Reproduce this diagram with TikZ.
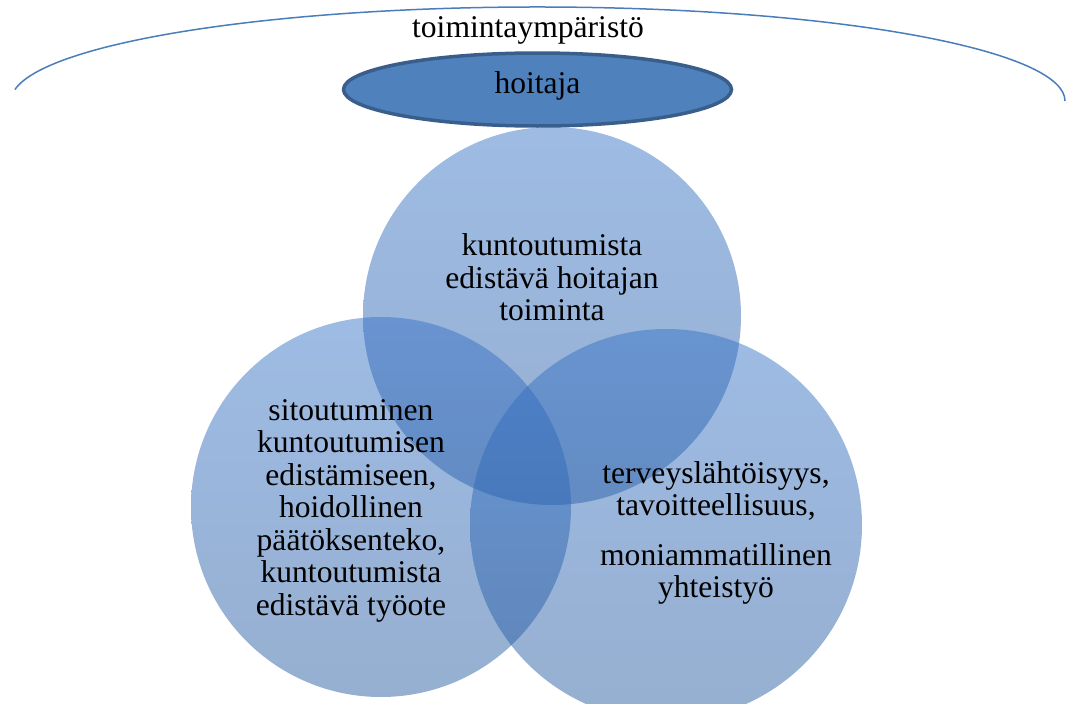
\documentclass[tikz,border=0pt]{standalone}
\usepackage{fontspec}
\setmainfont{Liberation Serif}
\usetikzlibrary{shapes.geometric}
\definecolor{arcblue}{RGB}{74,126,187}
\definecolor{ellfill}{RGB}{79,129,189}
\definecolor{elldraw}{RGB}{58,94,140}
\definecolor{circtop}{RGB}{52,113,198}
\definecolor{circbot}{RGB}{35,88,158}
\tikzset{
  venn/.style={circle, inner sep=0pt, draw=none, shade, top color=circtop, bottom color=circbot, fill opacity=0.48},
  lbl/.style={anchor=base, inner sep=0pt, font=\fontsize{31.6}{32.5}\selectfont, text=black},
}
\begin{document}
\begin{tikzpicture}[x=1pt,y=-1pt]
\useasboundingbox (0,0) rectangle (1066,704);
\clip (0,0) rectangle (1066,704);
% environment arc
\draw[arcblue, line width=1.5pt] (538,101) ++(187:527 and 94) arc[start angle=187, end angle=360, x radius=527, y radius=94];
\node[lbl] (env) at (528,37) {toimintaympäristö};
% nurse ellipse
\node[ellipse, minimum width=388pt, minimum height=73pt, inner sep=0pt, fill=ellfill, draw=elldraw, line width=3.5pt] (hoitaja) at (537.5,89.5) {};
\node[lbl] (hoitajat) at (537.5,93) {hoitaja};
% circles
\node[venn, minimum size=378pt] (ctop) at (552,316) {};
\node[venn, minimum size=380pt] (cleft) at (381,507) {};
\node[venn, minimum size=392pt] (cright) at (666,525) {};
% top text
\node[lbl] (t1) at (552,255) {kuntoutumista};
\node[lbl] (t2) at (552,288) {edistävä hoitajan};
\node[lbl] (t3) at (552,320) {toiminta};
% left text
\node[lbl] (l1) at (351,420) {sitoutuminen};
\node[lbl] (l2) at (351,452.5) {kuntoutumisen};
\node[lbl] (l3) at (351,485) {edistämiseen,};
\node[lbl] (l4) at (351,517.5) {hoidollinen};
\node[lbl] (l5) at (351,550) {päätöksenteko,};
\node[lbl] (l6) at (351,582.5) {kuntoutumista};
\node[lbl] (l7) at (351,615) {edistävä työote};
% right text
\node[lbl] (r1) at (716,483) {terveyslähtöisyys,};
\node[lbl] (r2) at (716,515) {tavoitteellisuus,};
\node[lbl] (r3) at (716,565) {moniammatillinen};
\node[lbl] (r4) at (716,597) {yhteistyö};
\end{tikzpicture}
\end{document}
